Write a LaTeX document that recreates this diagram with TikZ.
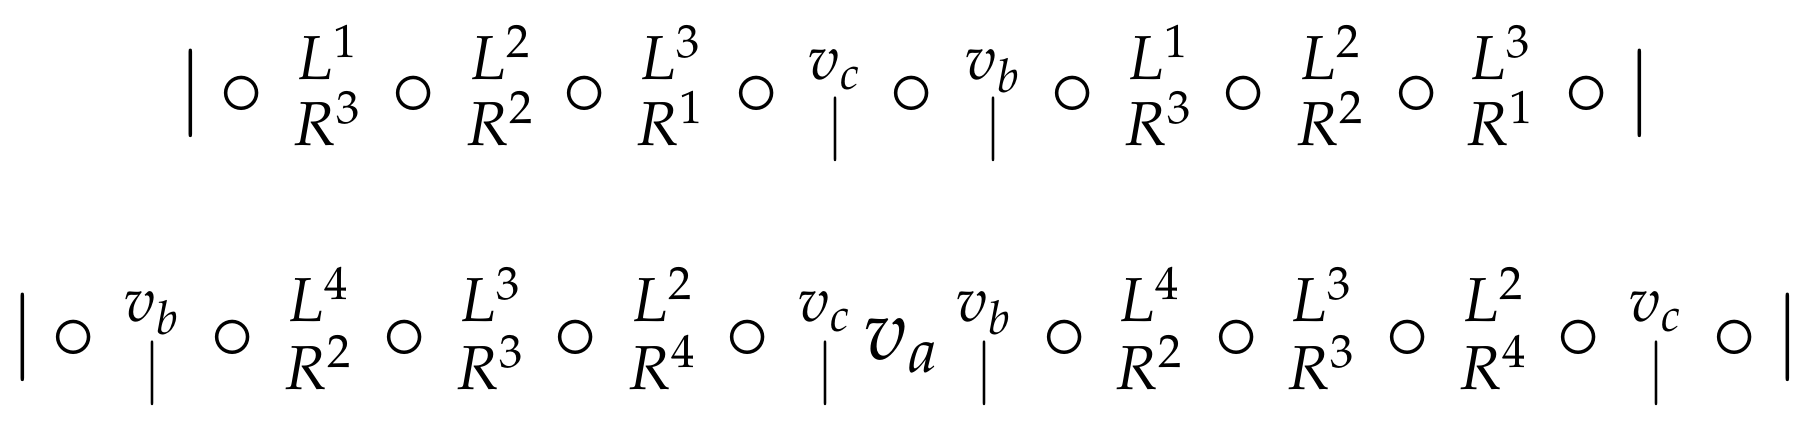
\documentclass[tikz,border=0pt]{standalone}
\usepackage{amsmath}
\usepackage{mathpazo}
\DeclareMathSizes{21.25}{21.25}{15.53}{11.64}
\DeclareMathSizes{15.53}{15.53}{11.64}{8.73}

\tikzset{
  mainsym/.style={inner sep=0pt, anchor=base, font=\fontsize{21.25}{25}\selectfont},
  stacksym/.style={inner sep=0pt, anchor=base, font=\fontsize{15.53}{18}\selectfont},
}

\begin{document}
\begin{tikzpicture}[x=0.25pt,y=-0.25pt]
\useasboundingbox (0,0) rectangle (1810,434);
% first line
\node[mainsym] (t-bl) at (191,116) {$|$};
\node[mainsym] (t-br) at (1640,116) {$|$};
\foreach \x [count=\i] in {242,414,585,757,912,1073,1244,1417,1587}
  \node[mainsym] (t-c\i) at (\x,116) {$\circ$};
\foreach \x/\up/\dn [count=\i] in {327/L^1/R^3, 500/L^2/R^2, 670/L^3/R^1, 835/v_c/|,
    993/v_b/|, 1158/L^1/R^3, 1330/L^2/R^2, 1500/L^3/R^1} {
  \node[stacksym] (t-u\i) at (\x,80) {$\up$};
  \node[stacksym] (t-d\i) at (\x,146) {$\dn$};
}
% second line
\node[mainsym] (b-bl) at (23,360) {$|$};
\node[mainsym] (b-br) at (1788,360) {$|$};
\node[mainsym] (b-va) at (902,360) {$v_a$};
\foreach \x [count=\i] in {74,233,405,576,748,1065,1237,1408,1579,1735}
  \node[mainsym] (b-c\i) at (\x,360) {$\circ$};
\foreach \x/\up/\dn [count=\i] in {152/v_b/|, 318/L^4/R^2, 490/L^3/R^3, 662/L^2/R^4,
    825/v_c/|, 984/v_b/|, 1149/L^4/R^2, 1321/L^3/R^3, 1493/L^2/R^4, 1656/v_c/|} {
  \node[stacksym] (b-u\i) at (\x,322) {$\up$};
  \node[stacksym] (b-d\i) at (\x,390) {$\dn$};
}
\end{tikzpicture}
\end{document}
